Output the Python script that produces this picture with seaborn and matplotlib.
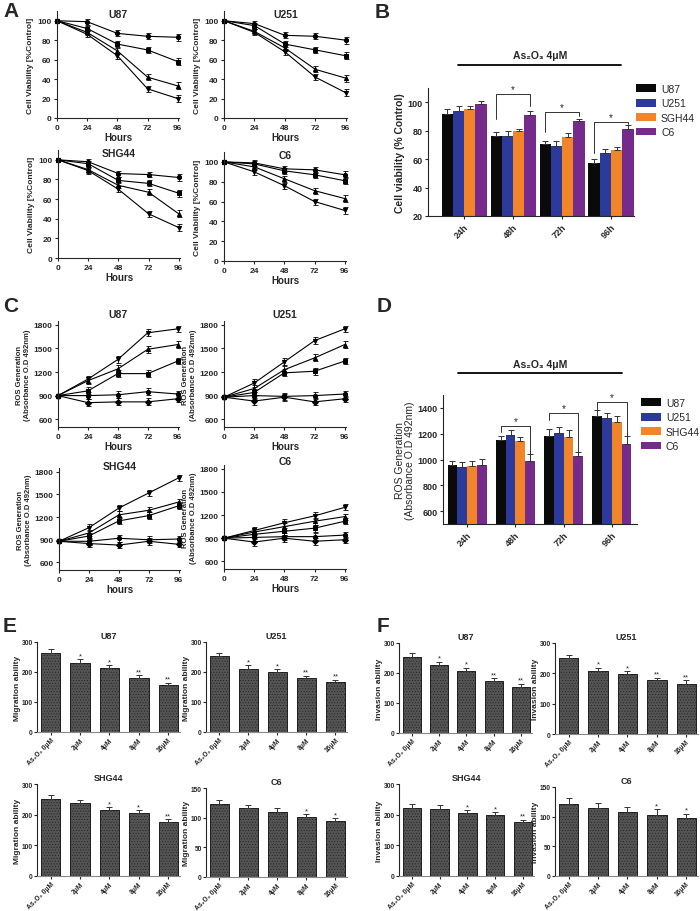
import numpy as np
import pandas as pd
import matplotlib
matplotlib.use("Agg")
import matplotlib.pyplot as plt
import seaborn as sns
from matplotlib.lines import Line2D

sns.set_style("ticks")
plt.rcParams['font.family'] = ['Liberation Sans', 'DejaVu Sans']
plt.rcParams['hatch.linewidth'] = 0.35
plt.rcParams['axes.linewidth'] = 0.8

# ---------------- data ----------------
hours = [0, 24, 48, 72, 96]
cells = ["U87", "U251", "SHG44", "C6"]

# A: cell viability (%control), four doses per cell line
via_U87 = [[100, 99, 87, 84, 83], [100, 92, 76, 70, 58], [100, 88, 69, 42, 33], [100, 86, 64, 30, 20]]
via_U251 = [[100, 97, 85, 84, 80], [100, 95, 76, 70, 64], [100, 89, 72, 50, 41], [100, 88, 68, 42, 26]]
via_SHG44 = [[100, 98, 86, 85, 82], [100, 96, 79, 76, 66], [100, 90, 74, 67, 45], [100, 89, 70, 45, 31]]
via_C6 = [[100, 99, 93, 92, 87], [100, 98, 91, 87, 81], [100, 95, 83, 71, 63], [100, 90, 76, 60, 51]]
via_err = [0, 3, 3, 3, 3.5]

# B: viability at 4uM
times = ["24h", "48h", "72h", "96h"]
b_labels = ["U87", "U251", "SGH44", "C6"]
b_U87 = [92, 76, 70.5, 57.5]
b_U251 = [94, 76.5, 69.5, 64.5]
b_SGH44 = [95.5, 79.5, 75.5, 66.5]
b_C6 = [98.5, 91, 86.5, 81]
b_err = [[3, 3, 2, 2.5], [3.5, 3, 3.5, 2.5], [2, 2, 3, 2], [2.5, 3, 2, 3]]

# C: ROS generation, five groups per cell line
ros_U87 = [[900, 1110, 1360, 1700, 1750], [900, 1090, 1240, 1490, 1550], [900, 960, 1180, 1180, 1340],
           [900, 900, 910, 950, 920], [900, 810, 820, 820, 860]]
ros_U251 = [[880, 1060, 1330, 1600, 1750], [880, 990, 1230, 1380, 1550], [880, 940, 1190, 1210, 1340],
            [880, 900, 890, 900, 920], [880, 830, 880, 820, 860]]
ros_SHG44 = [[880, 1060, 1320, 1520, 1720], [880, 990, 1230, 1290, 1400], [880, 950, 1150, 1220, 1350],
             [880, 880, 920, 900, 910], [880, 850, 830, 880, 840]]
ros_C6 = [[900, 1000, 1100, 1190, 1300], [900, 980, 1050, 1120, 1180], [900, 950, 990, 1030, 1120],
          [900, 910, 920, 920, 940], [900, 850, 900, 860, 880]]
ros_err = [0, 45, 45, 45, 40]

# D: ROS at 4uM
d_labels = ["U87", "U251", "SHG44", "C6"]
d_U87 = [960, 1150, 1185, 1340]
d_U251 = [945, 1190, 1205, 1320]
d_SHG44 = [950, 1140, 1175, 1290]
d_C6 = [958, 990, 1025, 1120]
d_err = [[30, 35, 50, 40], [35, 35, 50, 40], [40, 35, 50, 45], [45, 50, 35, 65]]

# E / F: migration and invasion
doses = ["As\u2082O\u2083 0\u03bcM", "2\u03bcM", "4\u03bcM", "8\u03bcM", "16\u03bcM"]
mig = {"U87": [265, 230, 212, 179, 157], "U251": [255, 210, 200, 180, 166],
       "SHG44": [250, 239, 215, 204, 175], "C6": [123, 117, 110, 101, 95]}
mig_err = {"U87": [13, 12, 11, 10, 8], "U251": [10, 12, 9, 8, 9],
           "SHG44": [13, 10, 10, 10, 10], "C6": [7, 5, 7, 5, 4]}
inv = {"U87": [255, 226, 208, 172, 155], "U251": [250, 208, 198, 178, 166],
       "SHG44": [222, 220, 204, 198, 175], "C6": [122, 114, 108, 103, 98]}
inv_err = {"U87": [12, 12, 10, 10, 10], "U251": [10, 10, 9, 8, 12],
           "SHG44": [12, 12, 11, 10, 8], "C6": [9, 9, 8, 10, 7]}
stars = {"U87": ["", "*", "*", "**", "**"], "U251": ["", "*", "*", "**", "**"],
         "SHG44": ["", "", "*", "*", "**"], "C6": ["", "", "", "*", "*"]}

bar_colors = ["#0a0a0a", "#2b3a9b", "#f2842a", "#762a8c"]

# ---------------- layout helpers ----------------
W, H = 700, 912
fig = plt.figure(figsize=(W / 100, H / 100), dpi=100)


def add_ax(l, t, r, b):
    return fig.add_axes([l / W, 1 - b / H, (r - l) / W, (b - t) / H])


def style(ax, fs=6, pad=1.5):
    sns.despine(ax=ax)
    ax.tick_params(length=2.5, width=0.8, pad=pad, labelsize=fs)
    for lab in ax.get_xticklabels() + ax.get_yticklabels():
        lab.set_fontweight("bold")


def fig_text(x, y, s, **kw):
    fig.text(x / W, 1 - y / H, s, **kw)


def fig_line(x0, x1, y):
    fig.add_artist(Line2D([x0 / W, x1 / W], [1 - y / H, 1 - y / H], color="black", lw=1.3))


markers4 = ["o", "s", "^", "v"]
markers5 = ["v", "^", "s", "o", "D"]


def line_panel(ax, series, err, markers, ylim, yticks, title, title_y, ylabel, xlabel, ylfs):
    for vals, m in zip(series, markers):
        sns.lineplot(x=hours, y=vals, marker=m, color="black", lw=0.8, markersize=3,
                     markeredgecolor="black", ax=ax, clip_on=False)
        ax.errorbar(hours, vals, yerr=err, fmt="none", ecolor="black", elinewidth=0.6,
                    capsize=1.8, capthick=0.6, clip_on=False)
    ax.set_xlim(0, 97)
    ax.set_ylim(*ylim)
    ax.set_xticks(hours)
    ax.set_yticks(yticks)
    ax.text(0.5, title_y, title, transform=ax.transAxes, ha="center", va="center",
            fontsize=7.5, fontweight="bold")
    ax.set_ylabel(ylabel, fontsize=ylfs, fontweight="bold", labelpad=2)
    ax.set_xlabel(xlabel, fontsize=7, fontweight="bold", labelpad=1)
    style(ax, 6)


# ---------------- A ----------------
fig_text(3, 2, "A", fontsize=15, fontweight="bold", va="top")
a_rects = [(57, 12, 179, 119), (224, 12, 347, 119), (58, 151, 180, 259), (224, 153, 346, 262)]
for rect, title, series in zip(a_rects, cells, [via_U87, via_U251, via_SHG44, via_C6]):
    ax = add_ax(*rect)
    line_panel(ax, series, via_err, markers4, (0, 110), [0, 20, 40, 60, 80, 100], title, 0.97,
               "Cell Viability [%Control]", "Hours", 6)


def group_bars(ax, vals, labels, errs, width):
    df = pd.DataFrame({"time": [t for _ in labels for t in times],
                       "cell": [c for c in labels for _ in times],
                       "value": [v for s in vals for v in s]})
    sns.barplot(data=df, x="time", y="value", hue="cell", palette=bar_colors, width=width,
                saturation=1, errorbar=None, edgecolor="none", ax=ax)
    centers = []
    for cont, e in zip(ax.containers, errs):
        xs = [p.get_x() + p.get_width() / 2 for p in cont]
        hs = [p.get_height() for p in cont]
        centers.append(xs)
        ax.errorbar(xs, hs, yerr=[np.zeros(len(e)), e], fmt="none", ecolor="#333333",
                    elinewidth=0.7, capsize=2, capthick=0.7)
    return centers


def bracket(ax, x0, x1, ytop, yl, yr, fs=7):
    ax.plot([x0, x0, x1, x1], [yl, ytop, ytop, yr], color="#333333", lw=0.7)
    ax.text((x0 + x1) / 2, ytop, "*", ha="center", va="bottom", fontsize=fs)


def bar_legend(ax, x, y):
    ax.legend(loc="upper left", bbox_to_anchor=(x / W, 1 - y / H), bbox_transform=fig.transFigure,
              frameon=False, fontsize=7.5, handlelength=1.9, handleheight=0.8, labelspacing=0.42,
              handletextpad=0.5, borderaxespad=0, borderpad=0)


# ---------------- B ----------------
fig_text(375, 3, "B", fontsize=15, fontweight="bold", va="top")
fig_text(540, 61, "As\u2082O\u2083 4\u03bcM", fontsize=7.5, fontweight="bold", ha="center", va="bottom")
fig_line(458, 621, 66)
axB = add_ax(428, 89, 634, 217)
cB = group_bars(axB, [b_U87, b_U251, b_SGH44, b_C6], b_labels, b_err, 0.92)
axB.set_xlim(-0.74, 3.47)
axB.set_ylim(20, 110)
axB.set_yticks([20, 40, 60, 80, 100])
axB.set_xlabel("")
axB.set_ylabel("Cell viability (% Control)", fontsize=7.5, fontweight="bold", labelpad=2)
for i, (top, yl, yr) in zip([1, 2, 3], [(105.5, 88, 97.5), (93, 79, 90.5), (86, 64, 84.5)]):
    bracket(axB, cB[0][i], cB[3][i], top, yl, yr)
style(axB, 6.5)
plt.setp(axB.get_xticklabels(), rotation=45, ha="right", rotation_mode="anchor")
bar_legend(axB, 636, 85)

# ---------------- C ----------------
fig_text(3, 297, "C", fontsize=15, fontweight="bold", va="top")
c_rects = [(58, 322, 179, 428), (224, 322, 346, 428), (59, 469, 180, 571), (224, 466, 346, 570)]
c_xl = ["Hours", "Hours", "hours", "Hours"]
c_ty = [1.07, 1.07, 1.02, 1.04]
for rect, title, series, xl, ty in zip(c_rects, cells, [ros_U87, ros_U251, ros_SHG44, ros_C6], c_xl, c_ty):
    ax = add_ax(*rect)
    line_panel(ax, series, ros_err, markers5, (500, 1850), [600, 900, 1200, 1500, 1800], title, ty,
               "ROS Generation\n(Absorbance O.D 492nm)", xl, 5.5)

# ---------------- D ----------------
fig_text(377, 297, "D", fontsize=15, fontweight="bold", va="top")
fig_text(540, 370, "As\u2082O\u2083 4\u03bcM", fontsize=7.5, fontweight="bold", ha="center", va="bottom")
fig_line(458, 622, 374)
axD = add_ax(443, 396, 637, 525)
cD = group_bars(axD, [d_U87, d_U251, d_SHG44, d_C6], d_labels, d_err, 0.81)
axD.set_xlim(-0.5, 3.52)
axD.set_ylim(500, 1500)
axD.set_yticks([600, 800, 1000, 1200, 1400])
axD.set_xlabel("")
axD.set_ylabel("ROS Generation\n(Absorbance O.D 492nm)", fontsize=7.5, labelpad=2, linespacing=1.0)
for i, (top, yl, yr) in zip([1, 2, 3], [(1260, 1214, 990), (1361, 1307, 1025), (1447, 1385, 1120)]):
    bracket(axD, cD[0][i], cD[3][i], top, yl, yr)
style(axD, 6.5)
plt.setp(axD.get_xticklabels(), rotation=45, ha="right", rotation_mode="anchor")
bar_legend(axD, 641, 399)


# ---------------- E / F ----------------
def dose_panel(ax, vals, errs, st, title, ylabel, ylim, yticks):
    sns.barplot(x=doses, y=vals, color="#545454", width=0.66, saturation=1, edgecolor="#1e1e1e",
                linewidth=0.7, hatch="......", errorbar=None, ax=ax)
    xs = [p.get_x() + p.get_width() / 2 for p in ax.patches]
    ax.errorbar(xs, vals, yerr=[np.zeros(len(errs)), errs], fmt="none", ecolor="#333333",
                elinewidth=0.7, capsize=2.2, capthick=0.7)
    for x, v, e, s in zip(xs, vals, errs, st):
        if s:
            ax.text(x, v + e, s, ha="center", va="bottom", fontsize=5.5)
    ax.set_xlim(-0.46, 4.4)
    ax.set_ylim(*ylim)
    ax.set_yticks(yticks)
    ax.set_title(title, fontsize=6.5, fontweight="bold", pad=3)
    ax.set_ylabel(ylabel, fontsize=6, fontweight="bold", labelpad=0.5)
    style(ax, 4.8, pad=1)
    ax.tick_params(length=2)
    ax.spines["bottom"].set_color("#888888")
    plt.setp(ax.get_xticklabels(), rotation=45, ha="right", rotation_mode="anchor")


fig_text(3, 617, "E", fontsize=15, fontweight="bold", va="top")
fig_text(377, 617, "F", fontsize=15, fontweight="bold", va="top")
e_rects = [(37, 643, 180, 733), (206, 643, 347, 733), (37, 785, 180, 877), (206, 789, 347, 878)]
f_rects = [(399, 644, 532, 734), (555, 644, 698, 735), (399, 785, 534, 877), (555, 788, 698, 877)]
for c, re, rf in zip(cells, e_rects, f_rects):
    lim = (0, 150) if c == "C6" else (0, 300)
    tk = [0, 50, 100, 150] if c == "C6" else [0, 100, 200, 300]
    dose_panel(add_ax(*re), mig[c], mig_err[c], stars[c], c, "Migration ability", lim, tk)
    dose_panel(add_ax(*rf), inv[c], inv_err[c], stars[c], c, "Invasion ability", lim, tk)

fig.savefig("out.png", dpi=100)
